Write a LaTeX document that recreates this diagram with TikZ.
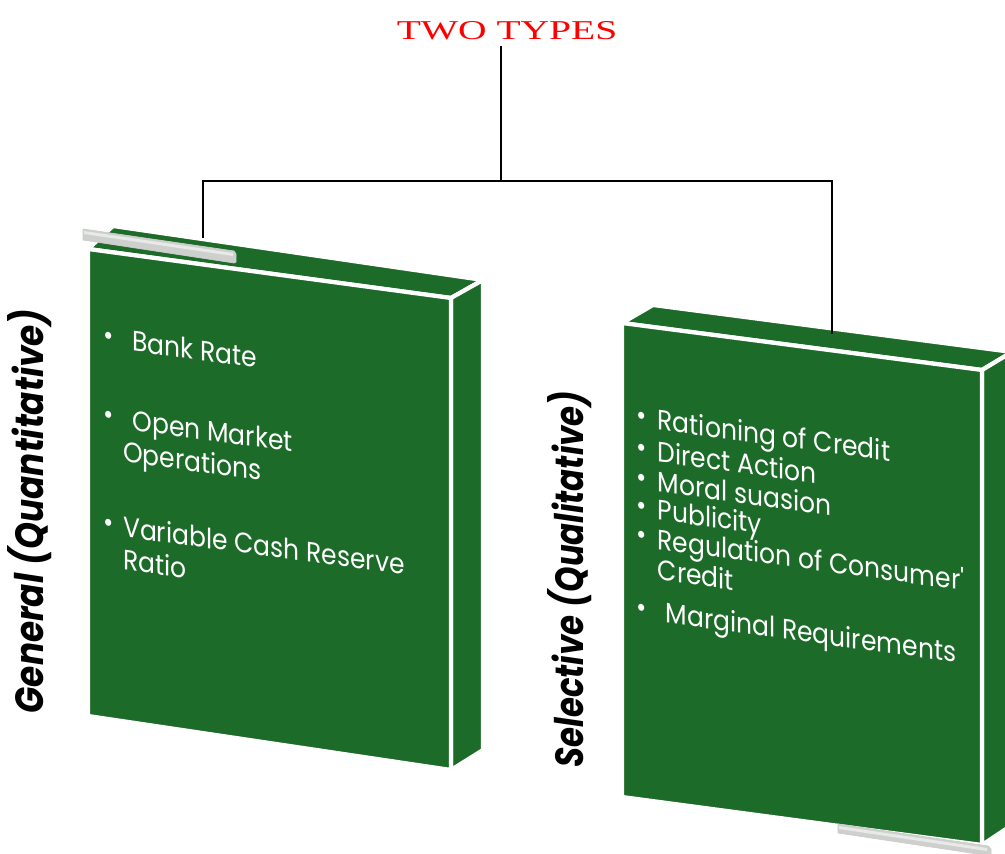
\documentclass[tikz,border=0pt]{standalone}
\usepackage{fontspec}
\newfontfamily\boardfont{Poppins}
\newfontfamily\titlefont{Liberation Serif}
\definecolor{boardgreen}{RGB}{28,107,40}
\definecolor{railgray}{RGB}{206,208,206}
\definecolor{raillight}{RGB}{232,234,232}
\newcommand{\bul}{\makebox[12.7pt][l]{\raisebox{1.5pt}{\textbullet}}}

\tikzset{
	face/.style = {fill = boardgreen, draw = white, line width = 2.4pt, line join = round},
	rail/.style = {fill = railgray, draw = white!80!black, line width = 0.4pt},
	conn/.style = {draw = black, line width = 0.85pt},
	heading/.style = {text = red, font = \titlefont\fontsize{15.5}{18}\selectfont, xscale = 1.45, anchor = base, inner sep = 3pt},
	item/.style = {text = white, align = left, anchor = base west, inner sep = 0pt, yslant = -0.135, xscale = 0.89},
	genitem/.style = {item, font = \boardfont\fontsize{16}{18.7}\selectfont},
	selitem/.style = {item, font = \boardfont\fontsize{16}{17.6}\selectfont},
	sidelabel/.style = {rotate = 90, anchor = base, inner sep = 0pt},
	genlabel/.style = {xscale = 1.15, sidelabel, font = \boardfont\bfseries\itshape\fontsize{19.5}{22}\selectfont},
	sellabel/.style = {xscale = 1.22, sidelabel, font = \boardfont\bfseries\itshape\fontsize{18.4}{21}\selectfont}
}

\begin{document}
\begin{tikzpicture}[x = 0.02cm, y = -0.02cm]
	\useasboundingbox (0, 0) rectangle (1005, 854);
	\clip (0, 0) rectangle (1005, 854);

	\node[heading] (title) at (507, 40) {TWO TYPES};

	% left board
	\draw[face] (113, 226) -- (483, 280) -- (451, 298) -- (88, 249) -- cycle;
	\draw[face] (451, 298) -- (483, 280) -- (483, 750) -- (451, 770) -- cycle;
	\draw[face] (88, 249) -- (451, 298) -- (451, 770) -- (88, 716) -- cycle;
	\draw[rail] (83, 229) -- (234, 251) -- (236, 254) -- (236, 262) -- (234, 263) -- (83, 240) -- cycle;
	\fill[raillight] (84, 231) -- (233, 253) -- (233, 256) -- (84, 234) -- cycle;

	% right board
	\draw[face] (653, 305) -- (1012, 352) -- (982, 370) -- (622, 323) -- cycle;
	\draw[face] (982, 370) -- (1012, 352) -- (1012, 825) -- (982, 845) -- cycle;
	\draw[face] (622, 323) -- (982, 370) -- (982, 845) -- (622, 797) -- cycle;
	\draw[rail] (838, 824) -- (988, 846) -- (991, 849) -- (991, 856) -- (838, 833) -- cycle;
	\fill[raillight] (839, 826) -- (987, 848) -- (987, 851) -- (839, 829) -- cycle;

	% multi-line items sit on the baseline of their last line
	\node[genitem] (gen1) at (103, 347) {\bul\hspace{6pt}Bank Rate};
	\node[genitem] (gen2) at (103, 459) {\bul\hspace{6pt}Open Market\\\hspace{12.7pt}Operations};
	\node[genitem] (gen3) at (103, 567) {\bul Variable Cash Reserve\\\hspace{12.7pt}Ratio};

	\node[selitem] (sel1) at (636, 427) {\bul\hspace{1pt}Rationing of Credit};
	\node[selitem] (sel2) at (636, 459) {\bul\hspace{1pt}Direct Action};
	\node[selitem] (sel3) at (636, 489) {\bul\hspace{1pt}Moral suasion};
	\node[selitem] (sel4) at (636, 517) {\bul\hspace{1pt}Publicity};
	\node[selitem] (sel5) at (636, 577) {\bul\hspace{1pt}Regulation of Consumer'\\\hspace{13.7pt}Credit};
	\node[selitem] (sel6) at (636, 619) {\bul\hspace{6pt}Marginal Requirements};

	\node[genlabel] (gen) at (43, 511) {General (Quantitative)};
	\node[sellabel] (sel) at (583, 579) {Selective (Qualitative)};

	\coordinate (hub) at (501, 181);
	\coordinate (gentop) at (203, 238);
	\coordinate (seltop) at (832, 334);
	\draw[conn] (hub |- title.south) -- (hub);
	\draw[conn] (gentop) |- (hub) -| (seltop);
\end{tikzpicture}
\end{document}
